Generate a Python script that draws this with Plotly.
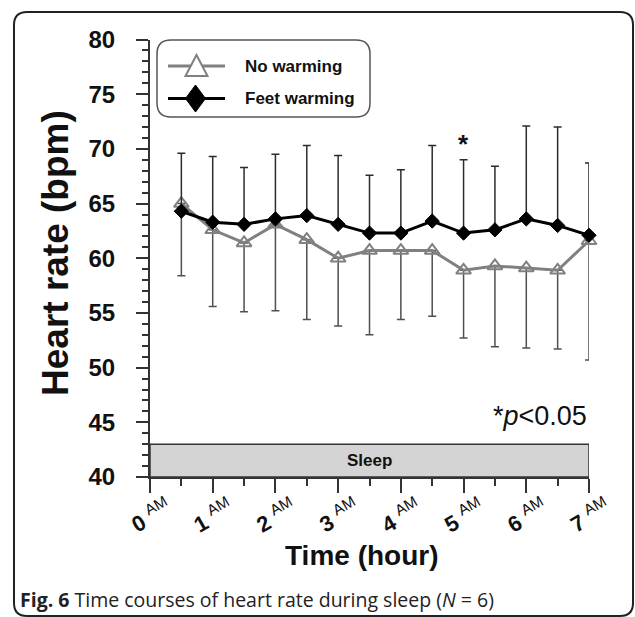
import plotly.graph_objects as go

# ---------------- data ----------------
hours = [0.5, 1.0, 1.5, 2.0, 2.5, 3.0, 3.5, 4.0, 4.5, 5.0, 5.5, 6.0, 6.5, 7.0]
no_warming = [65.0, 62.6, 61.4, 63.1, 61.7, 60.0, 60.7, 60.7, 60.7, 58.9, 59.3, 59.1, 58.9, 61.6]
no_warming_sd = [6.6, 7.0, 6.3, 7.9, 7.3, 6.2, 7.7, 6.3, 6.0, 6.2, 7.4, 7.3, 7.2, 10.9]
feet_warming = [64.3, 63.3, 63.1, 63.6, 63.9, 63.1, 62.3, 62.3, 63.4, 62.3, 62.6, 63.6, 63.0, 62.1]
feet_warming_sd = [5.3, 6.0, 5.2, 5.9, 6.4, 6.3, 5.3, 5.8, 6.9, 6.7, 5.8, 8.5, 9.0, 6.6]
tick_hours = [0, 1, 2, 3, 4, 5, 6, 7]
tick_labels = ["0", "1", "2", "3", "4", "5", "6", "7"]
sleep_start, sleep_end, sleep_low, sleep_high = 0, 7, 40, 43
signif_hour = 5.0

W, H = 635, 617
FONT = "Liberation Sans, Arial, sans-serif"


def PX(x):
    return x / W


def PY(y):
    return 1 - y / H


def rounded_rect(x0, y0, x1, y1, r):
    pts = [
        f"M{PX(x0 + r)},{PY(y0)}",
        f"L{PX(x1 - r)},{PY(y0)}",
        f"Q{PX(x1)},{PY(y0)} {PX(x1)},{PY(y0 + r)}",
        f"L{PX(x1)},{PY(y1 - r)}",
        f"Q{PX(x1)},{PY(y1)} {PX(x1 - r)},{PY(y1)}",
        f"L{PX(x0 + r)},{PY(y1)}",
        f"Q{PX(x0)},{PY(y1)} {PX(x0)},{PY(y1 - r)}",
        f"L{PX(x0)},{PY(y0 + r)}",
        f"Q{PX(x0)},{PY(y0)} {PX(x0 + r)},{PY(y0)}",
        "Z",
    ]
    return " ".join(pts)


def poly(points):
    return "M" + " L".join(f"{PX(x)},{PY(y)}" for x, y in points) + " Z"


fig = go.Figure()

fig.add_trace(go.Scatter(
    x=hours, y=no_warming, mode="lines+markers", name="No warming",
    line=dict(color="#808080", width=3),
    marker=dict(symbol="triangle-up-open", size=13, color="#808080",
                line=dict(width=2, color="#808080")),
    error_y=dict(type="data", symmetric=False, array=[0] * len(no_warming_sd),
                 arrayminus=no_warming_sd, color="#505050", thickness=1.5, width=4),
    cliponaxis=False, showlegend=False,
))
fig.add_trace(go.Scatter(
    x=hours, y=feet_warming, mode="lines+markers", name="Feet warming",
    line=dict(color="#000000", width=3),
    marker=dict(symbol="diamond", size=11, color="#000000",
                line=dict(width=1, color="#000000")),
    error_y=dict(type="data", symmetric=False, array=feet_warming_sd,
                 arrayminus=[0] * len(feet_warming_sd), color="#2b2b2b",
                 thickness=1.5, width=4),
    cliponaxis=False, showlegend=False,
))

shapes = []
shapes.append(dict(type="path", xref="paper", yref="paper",
                   path=rounded_rect(14, 12, 633, 616, 13),
                   line=dict(color="#222222", width=2)))
shapes.append(dict(type="path", xref="paper", yref="paper",
                   path=rounded_rect(157, 40, 370, 117, 14),
                   line=dict(color="#555555", width=1.5), fillcolor="white"))
shapes.append(dict(type="line", xref="paper", yref="paper",
                   x0=PX(168), x1=PX(225), y0=PY(66), y1=PY(66),
                   line=dict(color="#808080", width=3)))
shapes.append(dict(type="path", xref="paper", yref="paper",
                   path=poly([(196.5, 55), (207.5, 76), (185.5, 76)]),
                   line=dict(color="#808080", width=2), fillcolor="white"))
shapes.append(dict(type="line", xref="paper", yref="paper",
                   x0=PX(168), x1=PX(225), y0=PY(98.5), y1=PY(98.5),
                   line=dict(color="#000000", width=3)))
shapes.append(dict(type="path", xref="paper", yref="paper",
                   path=poly([(195.5, 85), (205.5, 98.5), (195.5, 112), (185.5, 98.5)]),
                   line=dict(color="#000000", width=1), fillcolor="#000000"))
shapes.append(dict(type="rect", xref="x", yref="y",
                   x0=sleep_start, x1=sleep_end, y0=sleep_low, y1=sleep_high,
                   fillcolor="#d4d4d4", line=dict(color="#333333", width=1.5),
                   layer="below"))

annotations = []
annotations.append(dict(text="<b>No warming</b>", xref="paper", yref="paper",
                        x=PX(243), y=PY(66), xanchor="left", yanchor="middle",
                        showarrow=False, font=dict(family=FONT, size=17, color="#111111")))
annotations.append(dict(text="<b>Feet warming</b>", xref="paper", yref="paper",
                        x=PX(243), y=PY(98.5), xanchor="left", yanchor="middle",
                        showarrow=False, font=dict(family=FONT, size=17, color="#111111")))
annotations.append(dict(text="<b>Sleep</b>", xref="x", yref="y",
                        x=(sleep_start + sleep_end) / 2, y=(sleep_low + sleep_high) / 2,
                        showarrow=False, font=dict(family=FONT, size=17, color="#111111")))
annotations.append(dict(text="<b>*</b>", xref="x", yref="y", x=signif_hour, y=70.4,
                        showarrow=False, font=dict(family=FONT, size=26, color="#111111")))
annotations.append(dict(text="*<i>p</i><0.05", xref="x", yref="y", x=7, y=45.6,
                        xanchor="right", yanchor="middle", showarrow=False,
                        font=dict(family=FONT, size=27, color="#111111")))
for h, lab in zip(tick_hours, tick_labels):
    annotations.append(dict(text=f"<b>{lab}</b> <sup>AM</sup>", xref="x", yref="paper",
                            x=h, y=PY(515), xanchor="center", yanchor="middle",
                            textangle=-30, showarrow=False,
                            font=dict(family=FONT, size=22, color="#111111")))
annotations.append(dict(text="<b>Time (hour)</b>", xref="paper", yref="paper",
                        x=PX(361.5), y=PY(555), xanchor="center", yanchor="middle",
                        showarrow=False, font=dict(family=FONT, size=28, color="#111111")))
annotations.append(dict(text="<b>Heart rate (bpm)</b>", xref="paper", yref="paper",
                        x=PX(55), y=PY(253), xanchor="center", yanchor="middle",
                        textangle=-90, showarrow=False,
                        font=dict(family=FONT, size=37, color="#111111")))
annotations.append(dict(text="<b>Fig. 6</b> Time courses of heart rate during sleep (<i>N</i> = 6)",
                        xref="paper", yref="paper", x=PX(18), y=PY(599),
                        xanchor="left", yanchor="middle", showarrow=False,
                        font=dict(family="Open Sans, sans-serif", size=19.5, color="#222222")))

fig.update_layout(
    template="none",
    width=W, height=H, margin=dict(l=0, r=0, t=0, b=0, pad=0, autoexpand=False),
    paper_bgcolor="white", plot_bgcolor="white",
    shapes=shapes, annotations=annotations, showlegend=False,
    xaxis=dict(domain=[PX(150), PX(589)], range=[0, 7], showgrid=False, zeroline=False,
               automargin=False,
               showline=True, linecolor="#333333", linewidth=2,
               ticks="outside", tickmode="linear", tick0=0, dtick=1, ticklen=14,
               tickwidth=1.5, tickcolor="#333333", showticklabels=False,
               minor=dict(ticks="outside", dtick=0.5, ticklen=7, tickwidth=1.5,
                          tickcolor="#333333")),
    yaxis=dict(domain=[PY(477), PY(39.5)], range=[40, 80], showgrid=False, zeroline=False,
               automargin=False,
               showline=True, linecolor="#333333", linewidth=2,
               ticks="outside", tickmode="linear", tick0=40, dtick=5, ticklen=12,
               tickwidth=1.5, tickcolor="#333333", ticklabelstandoff=16,
               tickfont=dict(family=FONT, size=24, color="#111111", weight="bold"),
               minor=dict(ticks="outside", dtick=1, ticklen=6, tickwidth=1.5,
                          tickcolor="#333333")),
)

fig.write_html("out.html", config={"displayModeBar": False},
               post_script="document.body.style.margin='0';document.body.style.overflow='hidden';")
